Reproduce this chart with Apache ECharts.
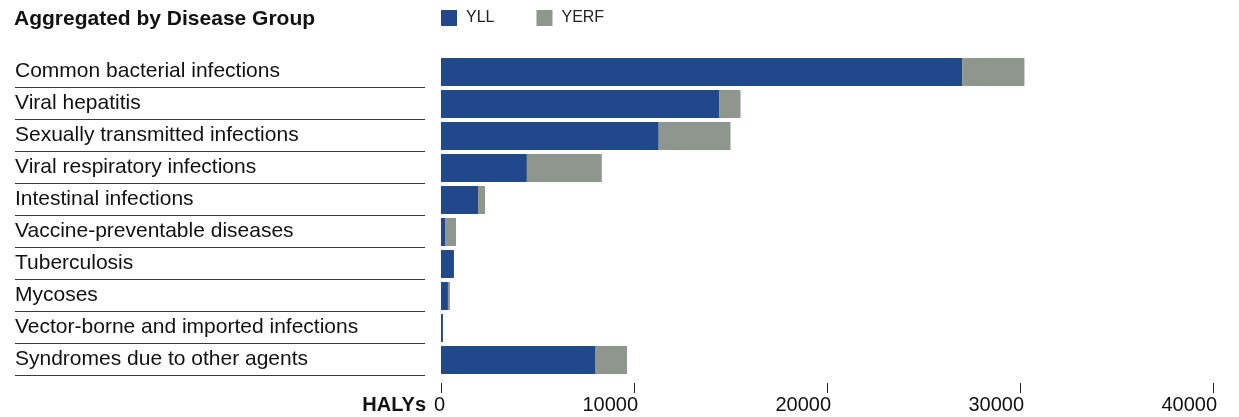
<!DOCTYPE html>
<html>
<head>
<meta charset="utf-8">
<title>Aggregated by Disease Group</title>
<script src="https://cdn.jsdelivr.net/npm/echarts@6/dist/echarts.min.js"></script>
<style>
  html, body { margin: 0; padding: 0; background: #fff; }
  #chart { width: 1239px; height: 417px; }
</style>
</head>
<body>
<div id="chart"></div>
<script>
// disease groups, top to bottom
var categories = [
  "Common bacterial infections",
  "Viral hepatitis",
  "Sexually transmitted infections",
  "Viral respiratory infections",
  "Intestinal infections",
  "Vaccine-preventable diseases",
  "Tuberculosis",
  "Mycoses",
  "Vector-borne and imported infections",
  "Syndromes due to other agents"
];
var yll = [27000, 14430, 11280, 4450, 1920, 210, 670, 360, 100, 7980];
var yerf = [3230, 1090, 3720, 3880, 360, 570, 0, 100, 0, 1660];
var xTicks = [0, 10000, 20000, 30000, 40000];

var chart = echarts.init(document.getElementById("chart"));

var font = "'Liberation Sans', Arial, Helvetica, sans-serif";

var option = {
  animation: false,
  textStyle: { fontFamily: font },
  title: [
    {
      text: "Aggregated by Disease Group",
      left: 14,
      top: 9,
      padding: 0,
      textStyle: { fontFamily: font, fontSize: 21, fontWeight: "bold", color: "#111" }
    },
    {
      text: "HALYs",
      right: 1239 - 426,
      top: 395,
      padding: 0,
      textStyle: { fontFamily: font, fontSize: 20, fontWeight: "bold", color: "#111" }
    }
  ],
  legend: {
    left: 441,
    top: 10,
    padding: 0,
    itemWidth: 16,
    itemHeight: 16,
    itemGap: 42,
    icon: "rect",
    textStyle: { fontFamily: font, fontSize: 16, color: "#222", padding: [2, 0, 0, 4] },
    data: ["YLL", "YERF"]
  },
  grid: [
    // label column with separator lines
    { left: 15, width: 410, top: 55, height: 320 },
    // bars
    { left: 441, right: 26, top: 56, height: 320 }
  ],
  xAxis: [
    { gridIndex: 0, type: "value", show: false },
    {
      gridIndex: 1,
      type: "value",
      min: 0,
      max: xTicks[xTicks.length - 1],
      interval: 10000,
      position: "bottom",
      offset: 7,
      axisLine: { show: false },
      axisTick: { show: true, length: 10, lineStyle: { color: "#222", width: 1 } },
      splitLine: { show: false },
      axisLabel: {
        fontFamily: font,
        fontSize: 20,
        color: "#111",
        margin: 12,
        align: "right",
        padding: [0, -4, 0, 0],
        formatter: function (v) { return String(v); }
      }
    }
  ],
  yAxis: [
    {
      gridIndex: 0,
      type: "category",
      inverse: true,
      data: categories,
      axisLine: { show: false },
      axisTick: { show: false },
      axisLabel: {
        inside: true,
        margin: 0,
        padding: [4, 0, 0, 0],
        fontFamily: font,
        fontSize: 21,
        color: "#111"
      },
      splitLine: {
        show: true,
        interval: function (index) { return index !== 0; },
        lineStyle: { color: "#3a3a3a", width: 1 }
      }
    },
    {
      gridIndex: 1,
      type: "category",
      inverse: true,
      data: categories,
      axisLine: { show: false },
      axisTick: { show: false },
      axisLabel: { show: false },
      splitLine: { show: false }
    }
  ],
  series: [
    {
      name: "YLL",
      type: "bar",
      stack: "total",
      xAxisIndex: 1,
      yAxisIndex: 1,
      barWidth: 28,
      itemStyle: { color: "#21488a" },
      data: yll
    },
    {
      name: "YERF",
      type: "bar",
      stack: "total",
      xAxisIndex: 1,
      yAxisIndex: 1,
      barWidth: 28,
      itemStyle: { color: "#8e968d" },
      data: yerf
    }
  ]
};

chart.setOption(option);
</script>
</body>
</html>
